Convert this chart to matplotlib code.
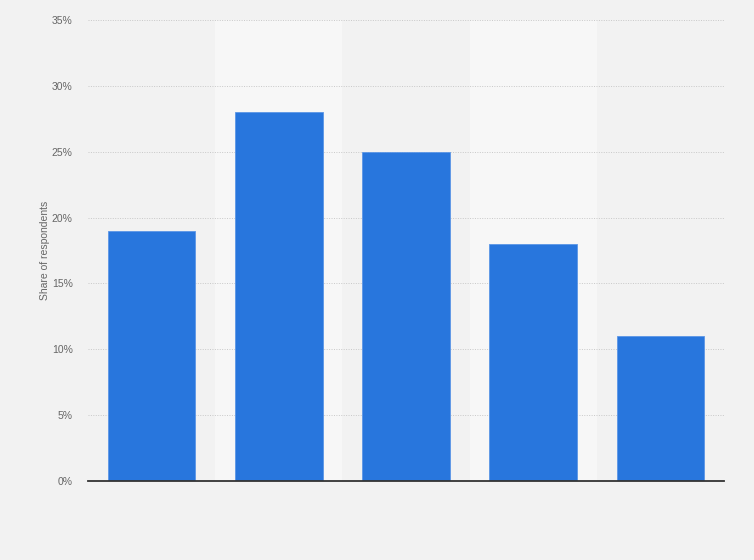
import matplotlib.pyplot as plt
import numpy as np

plt.rcParams['font.family'] = ['Liberation Sans', 'DejaVu Sans']

# bar values (share of respondents, %)
categories = ["1", "2", "3", "4", "5"]
shares = [19, 28, 25, 18, 11]
yticks = [0, 5, 10, 15, 20, 25, 30, 35]

fig = plt.figure(figsize=(7.54, 5.6), dpi=100, facecolor="#f2f2f2")
ax = fig.add_axes([0.1167, 0.1411, 0.8435, 0.8232])
ax.set_facecolor("#f2f2f2")

x = np.arange(len(categories))

# alternating light column bands
for i in x:
    if i % 2 == 1:
        ax.axvspan(i - 0.5, i + 0.5, color="#f7f7f7", zorder=0, lw=0)

ax.bar(x, shares, width=0.69, color="#2876dd", edgecolor="#5b96e6",
       linewidth=0.6, zorder=3)

ax.set_xlim(-0.5, len(categories) - 0.5)
ax.set_ylim(0, 35)
ax.set_yticks(yticks)
ax.set_yticklabels([f"{t}%" for t in yticks], fontsize=7.5, color="#666666")
ax.set_xticks([])
ax.tick_params(axis="y", length=0, pad=11)

ax.grid(True, axis="y", linestyle=(0, (1, 1.5)), color="#c8c8c8", linewidth=0.7, zorder=1)
for s in ["top", "right", "left"]:
    ax.spines[s].set_visible(False)
ax.spines["bottom"].set_color("#333333")
ax.spines["bottom"].set_linewidth(1.3)
ax.spines["bottom"].set_zorder(4)

ax.set_ylabel("Share of respondents", fontsize=7.5, color="#666666", labelpad=1)

fig.savefig("out.png", dpi=100, facecolor=fig.get_facecolor())
